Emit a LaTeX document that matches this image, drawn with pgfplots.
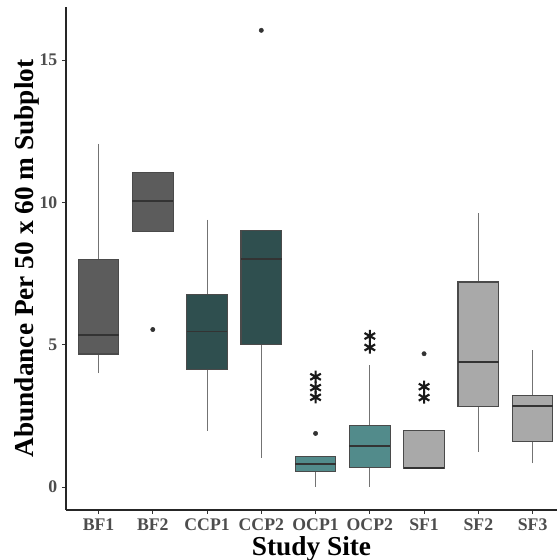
\documentclass[border=0pt]{standalone}
\usepackage{pgfplots}
\pgfplotsset{compat=1.18}
\usepgfplotslibrary{statistics}
\usepackage{fontspec}
\setmainfont{Liberation Serif}
\definecolor{cBF}{HTML}{5C5C5C}
\definecolor{cCCP}{HTML}{2F4F4F}
\definecolor{cOCP}{HTML}{528B8B}
\definecolor{cSF}{HTML}{A9A9A9}
\definecolor{cLine}{HTML}{4A4A4A}
\definecolor{cTick}{HTML}{4D4D4D}
\begin{document}
\begin{tikzpicture}
\useasboundingbox (-49.5pt,-37.5pt) rectangle (369.75pt,382.5pt);
\begin{axis}[
  at={(0,0)}, anchor=south west,
  scale only axis, width=368.25pt, height=377.25pt,
  xmin=0.4, xmax=9.45, ymin=-0.81, ymax=16.86,
  axis x line*=bottom, axis y line*=left,
  axis line style={line width=0.8pt, black!85},
  xtick={1,...,9},
  xticklabels={BF1,BF2,CCP1,CCP2,OCP1,OCP2,SF1,SF2,SF3},
  ytick={0,5,10,15},
  tick align=outside, major tick length=3pt,
  tick style={line width=0.6pt, black!80},
  /pgf/number format/assume math mode=true,
  ticklabel style={font=\fontsize{13.3}{15}\selectfont\bfseries, text=cTick},
  xlabel={Study Site}, ylabel={Abundance Per 50 x 60 m Subplot},
  label style={font=\fontsize{20.5}{24}\selectfont\bfseries, text=black},
  xlabel style={at={(axis description cs:0.5,-0.0905)}, anchor=base},
  ylabel style={at={(axis description cs:-0.0672,0.5)}, anchor=base, rotate=0},
  clip=false,
  boxplot/draw direction=y,
  boxplot/box extend=0.75,
  boxplot/whisker extend=0,
  boxplot/every median/.style={line width=1.4pt, draw=black!80},
  boxplot/every box/.style={line width=0.8pt},
  boxplot/every whisker/.style={line width=0.75pt, draw=black!55},
]
% BF1
\addplot[boxplot prepared={draw position=1, median=5.35, lower quartile=4.67, upper quartile=8.0, lower whisker=4.0, upper whisker=12.05},
  fill=cBF, draw=cLine, mark=*, mark size=1.6pt, mark options={fill=black!80, draw=black!80}] coordinates {};
% BF2
\addplot[boxplot prepared={draw position=2, median=10.05, lower quartile=8.98, upper quartile=11.05, lower whisker=8.98, upper whisker=11.05},
  fill=cBF, draw=cLine, mark=*, mark size=1.6pt, mark options={fill=black!80, draw=black!80}] coordinates {(2,5.53)};
% CCP1
\addplot[boxplot prepared={draw position=3, median=5.46, lower quartile=4.12, upper quartile=6.75, lower whisker=1.98, upper whisker=9.38},
  fill=cCCP, draw=cLine, mark=*, mark size=1.6pt, mark options={fill=black!80, draw=black!80}] coordinates {};
% CCP2
\addplot[boxplot prepared={draw position=4, median=8.02, lower quartile=5.0, upper quartile=9.02, lower whisker=1.02, upper whisker=9.02},
  fill=cCCP, draw=cLine, mark=*, mark size=1.6pt, mark options={fill=black!80, draw=black!80}] coordinates {(4,16.04)};
% OCP1
\addplot[boxplot prepared={draw position=5, median=0.82, lower quartile=0.53, upper quartile=1.07, lower whisker=0.0, upper whisker=1.07},
  fill=cOCP, draw=cLine, mark=*, mark size=1.6pt, mark options={fill=black!80, draw=black!80}] coordinates {(5,1.88)};
% OCP2
\addplot[boxplot prepared={draw position=6, median=1.44, lower quartile=0.69, upper quartile=2.15, lower whisker=0.0, upper whisker=4.28},
  fill=cOCP, draw=cLine, mark=*, mark size=1.6pt, mark options={fill=black!80, draw=black!80}] coordinates {};
% SF1
\addplot[boxplot prepared={draw position=7, median=0.66, lower quartile=0.64, upper quartile=1.99, lower whisker=0.64, upper whisker=1.99},
  fill=cSF, draw=cLine, mark=*, mark size=1.6pt, mark options={fill=black!80, draw=black!80}] coordinates {(7,4.68)};
% SF2
\addplot[boxplot prepared={draw position=8, median=4.40, lower quartile=2.81, upper quartile=7.2, lower whisker=1.22, upper whisker=9.61},
  fill=cSF, draw=cLine, mark=*, mark size=1.6pt, mark options={fill=black!80, draw=black!80}] coordinates {};
% SF3
\addplot[boxplot prepared={draw position=9, median=2.83, lower quartile=1.59, upper quartile=3.2, lower whisker=0.83, upper whisker=4.81},
  fill=cSF, draw=cLine, mark=*, mark size=1.6pt, mark options={fill=black!80, draw=black!80}] coordinates {};
% significance asterisks
\addplot[only marks, mark=asterisk, mark size=4.6pt, mark options={line width=1.6pt, draw=black!90}]
  coordinates {(5,3.87) (5,3.49) (5,3.15) (6,5.3) (6,4.9) (7,3.52) (7,3.14)};
\end{axis}
\end{tikzpicture}
\end{document}
